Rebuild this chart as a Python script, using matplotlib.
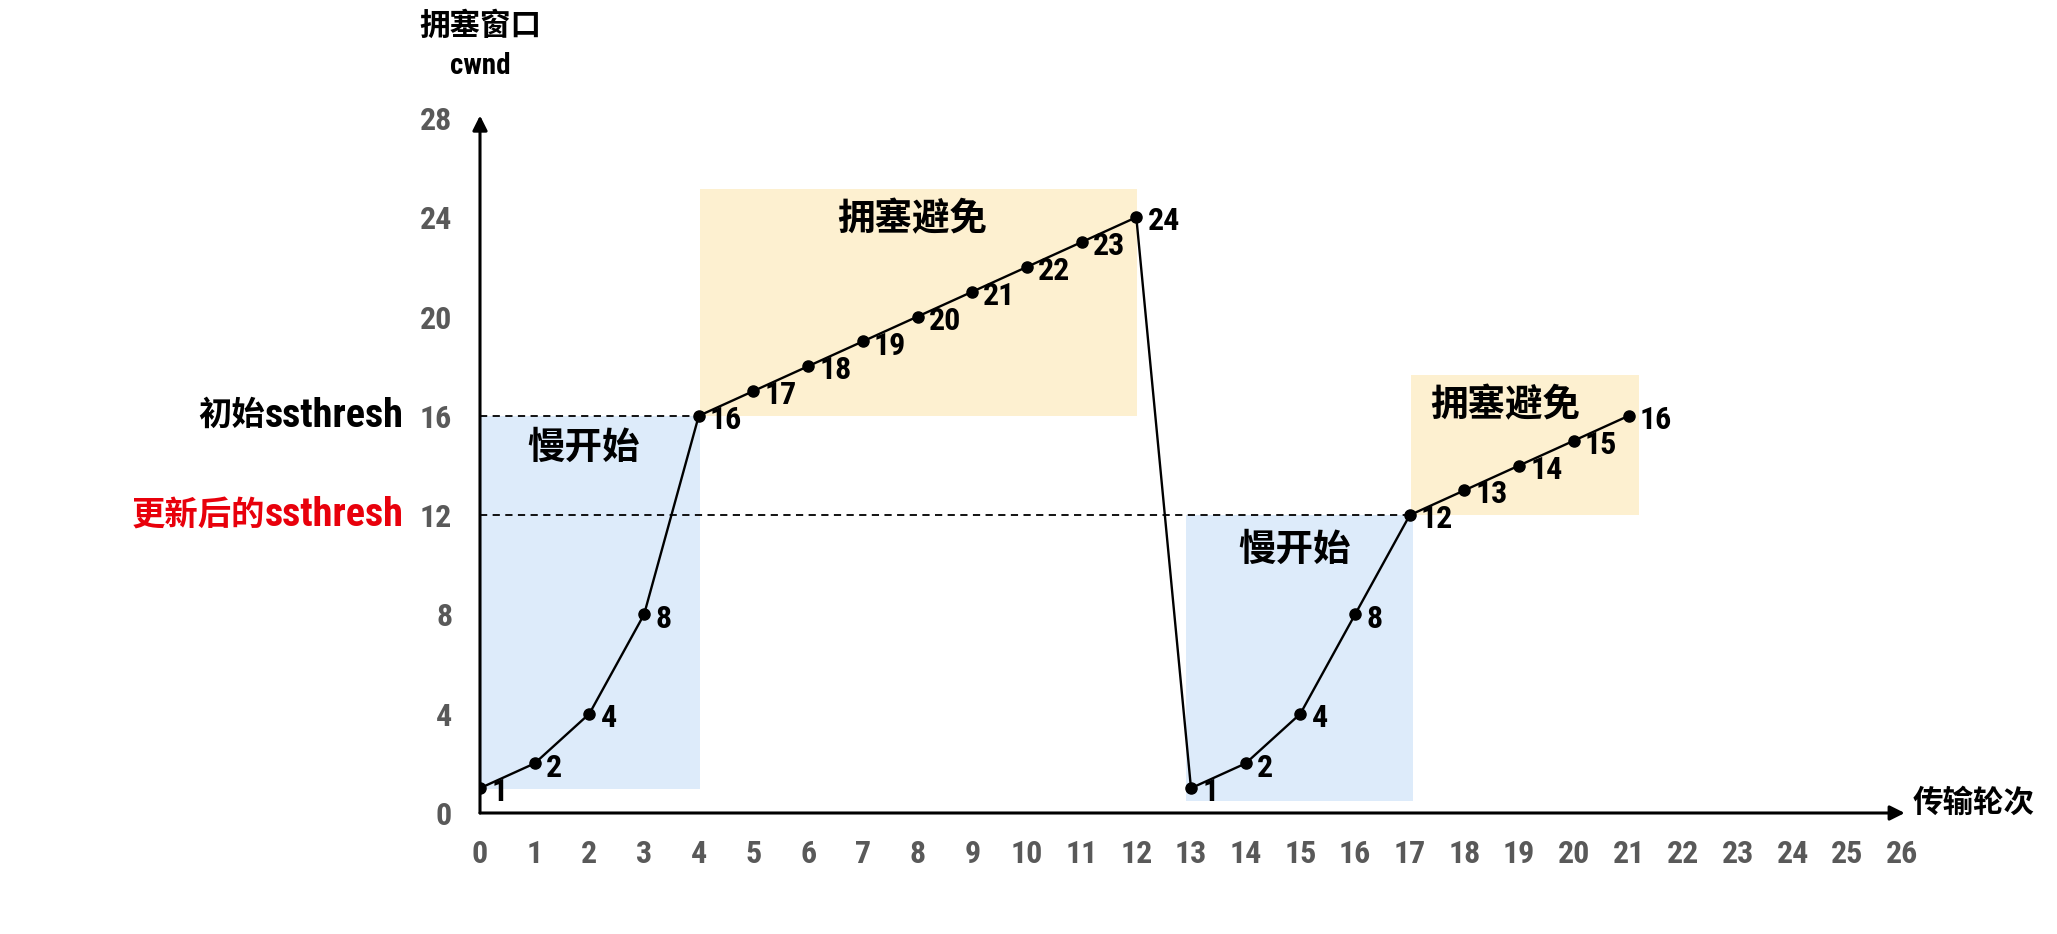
import matplotlib.pyplot as plt
from matplotlib import font_manager
from matplotlib.patches import Rectangle

# 数据：传输轮次与拥塞窗口
rounds = list(range(22))
cwnd = [1, 2, 4, 8, 16, 17, 18, 19, 20, 21, 22, 23, 24,
        1, 2, 4, 8, 12, 13, 14, 15, 16]
x_ticks = list(range(27))
y_ticks = [0, 4, 8, 12, 16, 20, 24, 28]

init_ssthresh = 16
new_ssthresh = 12

# 区域 (x0, x1, y0, y1, 文字, 文字位置)
slow_start = [(0, 4.03, 0.95, 16, '慢开始', (1.9, 14.7)),
              (12.9, 17.05, 0.5, 12, '慢开始', (14.9, 10.6))]
avoid = [(4.03, 12.01, 16, 25.15, '拥塞避免', (7.9, 23.9)),
         (17.03, 21.2, 12, 17.65, '拥塞避免', (18.75, 16.4))]

# 找一个窄体拉丁字体，没有就用普通的
installed = {f.name for f in font_manager.fontManager.ttflist}
latin = 'DejaVu Sans'
for name in ['Liberation Sans Narrow', 'Arial Narrow', 'Roboto Condensed',
             'DejaVu Sans Condensed', 'Liberation Sans']:
    if name in installed:
        latin = name
        break

FONT = [latin, 'Noto Sans CJK SC', 'DejaVu Sans']
plt.rcParams['font.family'] = FONT
plt.rcParams['font.weight'] = 'bold'

fig = plt.figure(figsize=(20.57, 9.34), dpi=100)
ax = fig.add_axes([480 / 2057, 1 - 813 / 934, 1422 / 2057, 695 / 934])
ax.set_xlim(0, 26)
ax.set_ylim(0, 28)

for x0, x1, y0, y1, txt, pos in slow_start:
    ax.add_patch(Rectangle((x0, y0), x1 - x0, y1 - y0, color='#ddebfa', lw=0, zorder=0))
    ax.text(pos[0], pos[1], txt, fontsize=27, ha='center', va='center', fontweight='bold')
for x0, x1, y0, y1, txt, pos in avoid:
    ax.add_patch(Rectangle((x0, y0), x1 - x0, y1 - y0, color='#fdf0d0', lw=0, zorder=0))
    ax.text(pos[0], pos[1], txt, fontsize=27, ha='center', va='center', fontweight='bold')

# 阈值虚线
ax.plot([0, 4], [init_ssthresh, init_ssthresh], ls='--', color='black', lw=1.3, dashes=(4, 3))
ax.plot([0, 17], [new_ssthresh, new_ssthresh], ls='--', color='black', lw=1.3, dashes=(4, 3))

ax.plot(rounds, cwnd, color='black', lw=1.7, marker='o', markersize=8, zorder=3)
for x, y in zip(rounds, cwnd):
    ax.annotate(str(y), (x, y), xytext=(8, -3), textcoords='offset points',
                ha='left', va='center', fontsize=23, fontweight='bold')

# 坐标轴箭头
for s in ax.spines.values():
    s.set_visible(False)
ax.annotate('', xy=(26.05, 0), xytext=(0, 0), annotation_clip=False,
            arrowprops=dict(arrowstyle='-|>', color='black', lw=2.2, mutation_scale=22,
                            shrinkA=0, shrinkB=0))
ax.annotate('', xy=(0, 28.1), xytext=(0, 0), annotation_clip=False,
            arrowprops=dict(arrowstyle='-|>', color='black', lw=2.2, mutation_scale=22,
                            shrinkA=0, shrinkB=0))

ax.set_xticks(x_ticks)
ax.set_yticks(y_ticks)
ax.tick_params(length=0, labelsize=23, colors='#595959')
ax.tick_params(axis='x', pad=19)
ax.tick_params(axis='y', pad=20)
for lab in ax.get_xticklabels() + ax.get_yticklabels():
    lab.set_fontweight('bold')

ax.text(0, 31.7, '拥塞窗口', ha='center', va='center', fontsize=22, clip_on=False)
ax.text(0, 30.1, 'cwnd', ha='center', va='center', fontsize=21, clip_on=False)
ax.text(26.2, 0.4, '传输轮次', ha='left', va='center', fontsize=22, clip_on=False)

# ssthresh 标签：拉丁部分字号大一点，中文接在左边
for yv, cjk, col in [(init_ssthresh, '初始', 'black'), (new_ssthresh, '更新后的', '#e8000b')]:
    t = ax.text(-1.39, yv, 'ssthresh', ha='right', va='center', fontsize=29,
                color=col, clip_on=False)
    ax.annotate(cjk, xy=(0, 0.5), xycoords=t, ha='right', va='center',
                fontsize=24, color=col, annotation_clip=False)

fig.savefig('out.png', dpi=100)
